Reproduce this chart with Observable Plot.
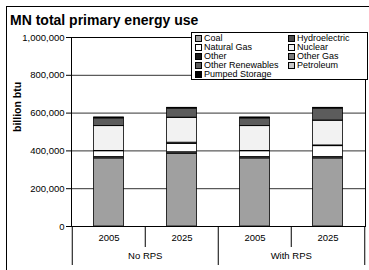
<!DOCTYPE html>
<html>
<head>
<meta charset="utf-8">
<script src="https://cdn.jsdelivr.net/npm/d3@7"></script>
<script src="https://cdn.jsdelivr.net/npm/@observablehq/plot@0.6"></script>
<style>
  html, body { margin: 0; padding: 0; background: #fff; }
  #wrap { position: relative; width: 369px; height: 270px; overflow: hidden; font-family: "Liberation Sans", Arial, sans-serif; }
  #border { position: absolute; left: 6px; top: 6px; width: 400px; height: 300px; border: 1px solid #000; box-sizing: border-box; }
  #title { position: absolute; left: 10px; top: 12px; font-size: 14px; font-weight: bold; line-height: 16px; color: #000; white-space: nowrap; }
  #legend { position: absolute; left: 191px; top: 32px; width: 177px; height: 48px; border: 1px solid #000; box-sizing: border-box; background: #fff;
            display: grid; grid-template-columns: 93px 83px; grid-auto-rows: 9px; padding: 1px 0 0 3px; font-size: 9px; line-height: 9px; }
  .item { display: flex; align-items: center; white-space: nowrap; height: 9px; }
  .sw { width: 5px; height: 5px; border: 1px solid #000; margin-right: 2px; flex: none; }
  #chart { position: absolute; left: 0; top: 0; }
</style>
</head>
<body>
<div id="wrap">
  <div id="border"></div>
  <div id="chart"></div>
  <div id="title"></div>
  <div id="legend"></div>
</div>
<script>
const title = "MN total primary energy use";
const yLabel = "billion btu";
const scenarios = ["No RPS", "No RPS", "With RPS", "With RPS"];
const years = ["2005", "2025", "2005", "2025"];
const groupLabels = ["No RPS", "With RPS"];
const yTicks = [0, 200000, 400000, 600000, 800000, 1000000];

// series (legend order)
const seriesNames = ["Coal", "Hydroelectric", "Natural Gas", "Nuclear", "Other", "Other Gas", "Other Renewables", "Petroleum", "Pumped Storage"];
const seriesColors = ["#a0a0a0", "#4a4a4a", "#ffffff", "#f2f2f2", "#1a1a1a", "#7a7a7a", "#5c5c5c", "#c8c8c8", "#000000"];
// stacking order, bottom to top
const stackOrder = ["Coal", "Hydroelectric", "Natural Gas", "Other Gas", "Nuclear", "Other", "Other Renewables", "Petroleum", "Pumped Storage"];

const coal            = [360000, 385000, 360000, 360000];
const hydroelectric   = [8000, 8000, 8000, 8000];
const naturalGas      = [30000, 44000, 30000, 57000];
const nuclear         = [132000, 132000, 132000, 132000];
const other           = [1000, 1000, 1000, 1000];
const otherGas        = [1000, 6000, 1000, 3000];
const otherRenewables = [40000, 47000, 40000, 62000];
const petroleum       = [3000, 3000, 3000, 3000];
const pumpedStorage   = [2000, 2000, 2000, 2000];

const seriesValues = {
  "Coal": coal, "Hydroelectric": hydroelectric, "Natural Gas": naturalGas, "Nuclear": nuclear,
  "Other": other, "Other Gas": otherGas, "Other Renewables": otherRenewables,
  "Petroleum": petroleum, "Pumped Storage": pumpedStorage
};

const keys = years.map((y, i) => scenarios[i] + "|" + y);
const rows = [];
for (const s of seriesNames) {
  seriesValues[s].forEach((v, i) => rows.push({key: keys[i], series: s, value: v}));
}

const W = 369, H = 270;
const mL = 71, mR = 4, mT = 37, mB = 44;
const bw = (W - mL - mR) / keys.length;
const plotH = H - mT - mB;

const chart = Plot.plot({
  width: W, height: H,
  marginLeft: mL, marginRight: mR, marginTop: mT, marginBottom: mB,
  style: {fontFamily: "'Liberation Sans', Arial, sans-serif", fontSize: "9.5px", color: "#000", background: "transparent"},
  x: {domain: keys, padding: 0, axis: null},
  y: {domain: [0, 1000000], axis: null},
  color: {domain: seriesNames, range: seriesColors},
  marks: [
    Plot.ruleY(yTicks, {stroke: "#333", strokeWidth: 1}),
    Plot.barY(rows, Plot.stackY({
      x: "key", y: "value", fill: "series", order: stackOrder,
      stroke: "#000", strokeWidth: 0.8, insetLeft: 21.6, insetRight: 21.6
    })),
    Plot.frame({stroke: "#000"}),
    Plot.axisY(yTicks, {tickFormat: d3.format(","), tickSize: 5, tickPadding: 2, label: null, fill: "#000", stroke: "#000"}),
    Plot.text([yLabel], {frameAnchor: "left", rotate: -90, dx: -54, fontWeight: "bold", fontSize: 10.5, text: d => d}),
    Plot.text(keys, {x: d => d, text: (d, i) => years[i], frameAnchor: "bottom", dy: 14.5}),
    // inner separators (between years)
    Plot.ruleX([keys[1], keys[3]], {x: d => d, dx: -bw / 2, insetTop: plotH, insetBottom: -21, stroke: "#000"}),
    // outer separators (between groups)
    Plot.ruleX([keys[0], keys[2]], {x: d => d, dx: -bw / 2, insetTop: plotH, insetBottom: -39, stroke: "#000"}),
    Plot.ruleX([keys[3]], {x: d => d, dx: bw / 2, insetTop: plotH, insetBottom: -39, stroke: "#000"}),
    Plot.text([keys[1], keys[3]], {x: d => d, dx: -bw / 2, text: (d, i) => groupLabels[i], frameAnchor: "bottom", dy: 32.5})
  ]
});
document.getElementById("chart").appendChild(chart);
document.getElementById("title").textContent = title;

const legend = document.getElementById("legend");
seriesNames.forEach((s, i) => {
  const it = document.createElement("div");
  it.className = "item";
  const sw = document.createElement("span");
  sw.className = "sw";
  sw.style.background = seriesColors[i];
  it.appendChild(sw);
  it.appendChild(document.createTextNode(s));
  legend.appendChild(it);
});
</script>
</body>
</html>
